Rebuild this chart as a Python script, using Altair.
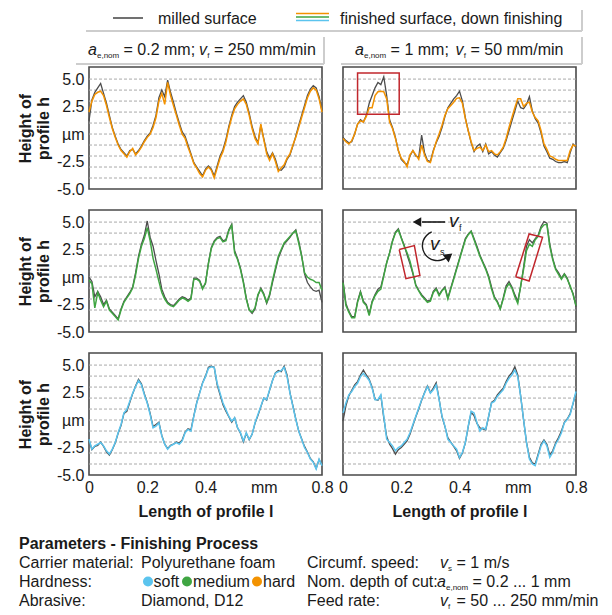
import altair as alt
import pandas as pd

FONT = "Liberation Sans"
INK = "#1a1a1a"

# sampling positions along the profile (mm)
X_MM = [round(i * 0.01, 2) for i in range(81)]

# ---- profile heights (µm) ----
MILLED_HARD_02 = [1.2, 3.1, 3.8, 4.2, 4.6, 3.7, 2.8, 1.7, 0.6, -0.2, -0.9, -1.4, -1.7, -2.0, -1.5, -1.4, -1.8, -1.5, -1.1, -0.6,
                  -0.2, 0.1, 0.8, 1.7, 3.3, 4.0, 3.4, 4.9, 3.8, 2.9, 1.9, 1.0, 0.2, -0.2, -1.0, -1.8, -2.6, -3.0, -3.4, -3.8,
                  -3.2, -2.9, -3.2, -3.8, -2.9, -2.0, -1.4, -0.5, 0.7, 1.7, 2.5, 2.9, 3.2, 3.5, 2.9, 1.9, 0.7, -0.2, -0.8, 0.8,
                  -0.4, -1.6, -2.2, -1.7, -2.3, -3.2, -3.3, -3.0, -2.3, -1.9, -1.1, -0.2, 0.8, 1.7, 2.6, 3.5, 4.1, 4.4, 4.2, 3.4,
                  2.1]
FINISHED_HARD_02 = [2.0, 3.0, 3.6, 3.8, 3.9, 3.5, 2.6, 1.5, 0.5, -0.3, -1.0, -1.5, -1.8, -2.1, -1.6, -1.3, -1.9, -1.6, -1.2, -0.7,
                    -0.3, 0.0, 0.6, 1.5, 3.0, 3.7, 2.7, 4.7, 3.5, 2.6, 1.7, 0.8, 0.0, -0.4, -1.2, -1.9, -2.7, -3.1, -3.6, -3.9,
                    -3.3, -3.0, -3.3, -4.0, -3.1, -2.2, -1.6, -0.7, 0.5, 1.5, 2.3, 2.7, 3.0, 3.2, 2.7, 1.7, 0.5, -0.4, -0.9, 0.9,
                    -0.5, -1.8, -2.4, -1.8, -2.5, -3.4, -3.1, -2.8, -2.2, -1.8, -1.0, -0.3, 0.6, 1.5, 2.4, 3.3, 3.9, 4.2, 4.0, 3.2,
                    2.0]

MILLED_HARD_1 = [-0.3, -0.6, -0.8, -0.7, 0.0, 0.9, 1.3, 1.1, 1.7, 2.8, 3.5, 4.2, 4.7, 4.5, 5.2, 3.5, 1.3, 0.6, -0.3, -1.5,
                 -2.3, -2.6, -2.8, -2.0, -1.5, -2.0, -2.1, -0.1, -1.7, -2.4, -2.5, -1.5, -0.8, -0.2, 0.6, 1.6, 2.4, 2.8, 3.2, 3.5,
                 3.9, 3.0, 1.5, 0.3, -0.8, -1.6, -1.1, -0.9, -1.6, -0.9, -1.8, -1.6, -1.9, -2.1, -1.7, -1.3, -0.6, 0.3, 1.2, 2.1,
                 3.0, 2.4, 2.3, 2.7, 3.4, 2.1, 1.4, 1.0, 0.1, -1.1, -1.6, -2.2, -2.3, -2.5, -2.6, -2.6, -2.5, -2.6, -1.7, -0.9,
                 -1.2]
FINISHED_HARD_1 = [-0.4, -0.7, -0.9, -0.6, 0.0, 0.9, 1.2, 1.1, 1.6, 2.4, 2.4, 3.5, 3.85, 3.9, 3.85, 3.2, 1.1, 0.5, -0.4, -1.5,
                   -2.2, -2.5, -3.0, -1.9, -1.5, -1.9, -2.3, -1.0, -1.9, -2.5, -2.6, -1.6, -0.7, 0.0, 0.8, 1.7, 2.3, 2.6, 2.9, 3.25,
                   3.3, 2.8, 1.4, 0.3, -0.7, -1.5, -1.3, -1.2, -1.5, -1.0, -1.6, -1.5, -1.8, -1.9, -1.6, -1.2, -0.4, 0.6, 1.5, 2.4,
                   3.2, 3.2, 2.5, 2.8, 2.9, 2.0, 1.5, 1.2, 0.3, -0.9, -1.4, -2.0, -2.1, -2.3, -2.4, -2.4, -2.4, -2.4, -1.5, -1.0,
                   -1.1]

MILLED_MEDIUM_02 = [0.0, -0.4, -1.8, -1.3, -1.8, -2.5, -2.1, -2.9, -3.2, -3.5, -3.8, -2.9, -2.2, -1.8, -1.4, -0.9, 0.4, 1.9, 3.0, 3.8,
                    5.1, 3.6, 2.8, 1.5, 0.3, -1.1, -1.8, -2.3, -2.5, -2.6, -2.3, -2.0, -1.8, -1.9, -2.1, -1.9, -0.1, -0.1, -0.3, -1.0,
                    -0.6, 1.3, 2.7, 3.3, 3.6, 3.7, 3.3, 3.4, 4.3, 4.8, 2.4, 1.7, 0.8, -0.4, -1.9, -3.0, -3.3, -2.9, -1.7, -1.0,
                    -1.5, -2.4, -1.7, -0.5, 0.6, 1.7, 2.4, 3.0, 3.3, 3.6, 4.0, 4.3, 3.3, 2.0, 0.3, -0.5, -0.9, -1.2, -1.3, -1.2,
                    -2.3]
FINISHED_MEDIUM_02 = [-0.3, -0.6, -2.8, -1.4, -2.1, -2.7, -2.2, -3.0, -3.3, -3.6, -3.9, -3.0, -2.3, -1.9, -1.5, -1.0, 0.2, 1.7, 2.8, 3.5,
                      4.5, 3.3, 1.7, 0.7, -0.4, -1.4, -2.0, -2.4, -2.6, -2.7, -2.4, -2.1, -1.9, -2.0, -2.2, -2.0, -0.2, -0.2, -0.4, -1.1,
                      -0.5, 1.2, 2.6, 3.2, 3.5, 3.6, 3.2, 3.3, 4.2, 4.7, 2.2, 1.6, 0.7, -0.5, -2.0, -3.0, -3.2, -2.8, -1.6, -1.1,
                      -1.6, -2.3, -1.6, -0.3, 0.8, 1.9, 2.5, 3.1, 3.4, 3.7, 4.0, 4.2, 3.1, 1.9, 0.4, 0.0, -0.2, -0.3, -0.5, -0.5,
                      -1.2]

MILLED_MEDIUM_1 = [-0.3, -2.4, -3.1, -3.6, -3.6, -2.2, -1.3, -2.2, -2.5, -3.4, -2.2, -1.6, -1.1, -0.9, 0.2, 1.3, 2.2, 3.3, 4.1, 4.4,
                   3.6, 2.9, 2.0, 1.2, 0.3, -0.7, -1.2, -1.6, -1.9, -2.2, -2.1, -1.3, -1.0, -1.6, -1.2, -0.9, -1.9, -1.0, -0.1, 0.8,
                   1.7, 2.6, 3.5, 3.9, 4.2, 3.5, 2.8, 2.0, 1.4, 0.8, 0.1, -0.9, -1.8, -2.2, -2.9, -1.9, -0.8, -0.4, -0.9, -1.6,
                   -2.2, -0.9, 0.9, 2.8, 3.4, 3.1, 3.5, 3.8, 4.6, 5.05, 4.9, 3.0, 1.7, 0.8, 0.4, -0.1, 0.3, -0.1, -0.9, -1.5,
                   -2.7]
FINISHED_MEDIUM_1 = [-0.5, -2.6, -3.2, -3.7, -3.7, -2.3, -1.4, -2.3, -2.6, -3.5, -2.3, -1.7, -1.3, -1.1, 0.1, 1.3, 2.2, 3.25, 4.0, 4.3,
                     3.55, 2.8, 2.2, 1.45, 0.4, -0.8, -1.25, -1.7, -2.0, -2.3, -2.2, -1.4, -1.1, -1.7, -1.25, -1.0, -2.0, -1.1, -0.2, 0.7,
                     1.6, 2.5, 3.4, 3.85, 4.15, 3.4, 2.65, 1.9, 1.3, 0.7, -0.05, -1.1, -1.9, -2.3, -2.9, -2.0, -1.0, -0.6, -1.0, -1.8,
                     -2.4, -0.8, 0.7, 2.4, 3.0, 2.8, 3.4, 3.7, 4.45, 4.75, 4.8, 2.8, 1.6, 0.7, 0.25, -0.2, 0.25, -0.2, -0.8, -1.6,
                     -2.6]

MILLED_SOFT_02 = [-1.8, -2.7, -2.4, -2.3, -2.0, -2.4, -2.9, -3.2, -2.7, -2.1, -1.2, -0.5, 0.6, 0.8, 1.6, 2.4, 3.1, 3.7, 3.3, 2.4,
                  1.6, 0.6, -0.6, -0.4, -0.2, -1.4, -2.2, -2.6, -2.3, -2.2, -2.0, -2.1, -1.8, -1.1, -0.8, -0.9, 0.4, 1.6, 2.5, 3.4,
                  4.0, 4.8, 4.9, 4.8, 3.2, 2.3, 1.4, 0.8, 0.3, -0.2, 0.2, -0.7, -1.2, -2.0, -1.2, -1.8, -1.3, -0.3, 0.4, 1.2,
                  2.0, 1.8, 2.7, 3.6, 4.3, 4.5, 4.4, 4.9, 4.1, 2.5, 1.3, 0.1, -1.0, -1.7, -2.4, -2.9, -3.5, -3.8, -4.4, -3.6,
                  -4.1]
FINISHED_SOFT_02 = [-1.75, -2.65, -2.35, -2.2, -2.05, -2.35, -2.8, -3.1, -2.65, -2.05, -1.15, -0.4, 0.65, 0.95, 1.7, 2.45, 3.05, 3.6, 3.2, 2.3,
                    1.55, 0.5, -0.7, -0.55, -0.25, -1.45, -2.2, -2.65, -2.35, -2.2, -2.05, -2.2, -1.9, -1.15, -0.85, -1.0, 0.35, 1.55, 2.45, 3.35,
                    3.95, 4.7, 4.85, 4.8, 3.35, 2.45, 1.55, 0.95, 0.35, -0.1, 0.2, -0.7, -1.15, -1.9, -1.15, -1.75, -1.3, -0.25, 0.5, 1.25,
                    2.0, 1.85, 2.75, 3.6, 4.25, 4.4, 4.5, 4.8, 3.95, 2.45, 1.25, 0.05, -1.0, -1.75, -2.5, -2.95, -3.55, -3.85, -4.45, -3.55,
                    -4.15]

MILLED_SOFT_1 = [-0.1, 1.3, 2.2, 2.7, 3.2, 3.5, 4.1, 4.55, 4.1, 3.7, 3.0, 1.9, 1.8, 2.2, 0.2, -1.5, -2.2, -2.6, -3.1, -2.7,
                 -2.5, -2.2, -1.9, -1.3, -0.5, 0.3, 1.0, 1.8, 2.5, 3.1, 2.5, 2.9, 3.4, 1.9, 0.3, -0.6, -1.6, -2.0, -2.4, -2.8,
                 -3.5, -3.0, -2.1, -0.6, 0.7, 0.4, -0.3, -0.7, -0.8, -0.9, 0.3, 1.6, 1.8, 2.3, 2.6, 2.9, 3.5, 4.0, 4.3, 4.85,
                 4.1, 2.2, 0.0, -2.0, -3.4, -3.9, -4.0, -3.1, -2.2, -1.8, -2.2, -3.2, -2.8, -2.1, -1.6, -1.0, -0.2, 0.1, 0.6, 1.5,
                 2.5]
FINISHED_SOFT_1 = [0.65, 1.55, 2.3, 2.6, 3.05, 3.35, 3.95, 4.25, 3.95, 3.6, 2.9, 1.85, 1.85, 2.3, 0.35, -1.75, -2.05, -2.35, -2.8, -2.5,
                   -2.35, -2.05, -1.75, -1.15, -0.4, 0.35, 1.1, 1.85, 2.45, 3.05, 2.45, 2.75, 3.2, 1.85, 0.35, -0.55, -1.75, -2.05, -2.35, -2.65,
                   -3.4, -2.95, -2.05, -0.55, 0.8, 0.65, -0.25, -1.0, -0.7, -0.85, 0.35, 1.55, 1.7, 2.15, 2.45, 2.75, 3.35, 3.8, 4.1, 4.55,
                   3.95, 2.15, 0.05, -2.05, -3.55, -4.0, -4.15, -3.25, -2.35, -1.9, -2.35, -3.4, -2.95, -2.2, -1.75, -1.15, -0.25, 0.05, 0.5, 1.55,
                   2.6]

GRID_LEVELS = [-4, -3, -2, -1, 0, 1, 2, 3, 4, 5]
Y_TICKS = [-5.0, -2.5, 0.0, 2.5, 5.0]
X_TICKS = [0.0, 0.2, 0.4, 0.6, 0.8]

# annotation boxes (data units)
BOX_TOP_RIGHT = {"l": [0.05], "l2": [0.193], "h": [1.8], "h2": [5.55]}
BOX_MID_X = [0.193, 0.245, 0.264, 0.216, 0.193, 0.593, 0.639, 0.685, 0.639, 0.593]
BOX_MID_Y = [2.5, 2.86, 0.15, -0.15, 2.5, 0.03, 3.92, 3.61, -0.36, 0.03]
BOX_MID_ID = [1, 1, 1, 1, 1, 2, 2, 2, 2, 2]

COL_SOFT, COL_MEDIUM, COL_HARD = "#5bc4ee", "#3fa542", "#f39200"
COL_MILLED = "#4d4d4d"
RED = "#c1272d"
BORDER = "#cdcdcd"

PW, PH = 233, 122
GAP = 21
XSCALE = alt.Scale(domain=[0, 0.8], nice=False, zero=False)
YSCALE = alt.Scale(domain=[-5, 6.1], nice=False, zero=False)

XLABEL = "datum.value == 0.6 ? 'mm' : (datum.value == 0 ? '0' : format(datum.value, '.1f'))"
YLABEL = ("datum.value == 0 ? 'µm' : (datum.value < 0 ? '-' + format(-datum.value, '.1f') "
          ": format(datum.value, '.1f'))")

ONE = pd.DataFrame({"k": [0]})
NOFRAME = alt.ViewBackground(stroke="transparent")
FRAME = alt.ViewBackground(stroke="#4a4a4a", strokeWidth=1.6, strokeOpacity=1)


def txt(s, x, y, size=16, weight="normal", style="normal", baseline="alphabetic", align="left"):
    return alt.Chart(ONE).mark_text(
        text=s, font=FONT, fontSize=size, fontWeight=weight, fontStyle=style,
        color=INK, align=align, baseline=baseline
    ).encode(x=alt.value(x), y=alt.value(y))


def hline(x1, x2, y, color, width):
    return alt.Chart(ONE).mark_rule(color=color, strokeWidth=width).encode(
        x=alt.value(x1), x2=alt.value(x2), y=alt.value(y))


def vline(x, y1, y2, color, width):
    return alt.Chart(ONE).mark_rule(color=color, strokeWidth=width).encode(
        x=alt.value(x), y=alt.value(y1), y2=alt.value(y2))


def panel(milled, finished, color, left, bottom, extras=()):
    yax = alt.Axis(values=Y_TICKS, labelExpr=YLABEL, title=["Height of", "profile h"],
                   grid=False, ticks=False, domain=False, labelPadding=5, titlePadding=5,
                   titleLineHeight=18, labelFontSize=16, titleFontSize=16, titleFontWeight="bold",
                   labelFont=FONT, titleFont=FONT, labelColor=INK, titleColor=INK,
                   labelOverlap=False) if left else None
    xax = alt.Axis(values=X_TICKS, labelExpr=XLABEL, title="Length of profile l",
                   grid=False, ticks=False, domain=False, labelPadding=4, titlePadding=8,
                   labelFontSize=16, titleFontSize=16, titleFontWeight="bold",
                   labelFont=FONT, titleFont=FONT, labelColor=INK, titleColor=INK,
                   labelFlush=False, labelOverlap=False) if bottom else None
    x_enc = alt.X("l:Q", scale=XSCALE, axis=xax)
    y_enc = alt.Y("h:Q", scale=YSCALE, axis=yax)
    grid = alt.Chart(pd.DataFrame({"h": GRID_LEVELS})).mark_rule(
        color="#a9a9a9", strokeDash=[3, 2], strokeWidth=1).encode(y=y_enc)
    m = alt.Chart(pd.DataFrame({"l": X_MM, "h": milled})).mark_line(
        color=COL_MILLED, strokeWidth=1.3).encode(x=x_enc, y=y_enc)
    f = alt.Chart(pd.DataFrame({"l": X_MM, "h": finished})).mark_line(
        color=color, strokeWidth=1.5).encode(x=x_enc, y=y_enc)
    layers = [grid, m, f]
    for e in extras:
        layers.append(e(x_enc, y_enc))
    return alt.layer(*layers).properties(width=PW, height=PH, view=FRAME)


def red_rect(x_enc, y_enc):
    return alt.Chart(pd.DataFrame(BOX_TOP_RIGHT)).mark_rect(
        filled=False, color=RED, strokeWidth=1.5).encode(
        x=x_enc, x2="l2:Q", y=y_enc, y2="h2:Q")


def red_tilted(x_enc, y_enc):
    df = pd.DataFrame({"l": BOX_MID_X, "h": BOX_MID_Y, "b": BOX_MID_ID,
                       "o": list(range(len(BOX_MID_X)))})
    return alt.Chart(df).mark_line(color=RED, strokeWidth=1.5).encode(
        x=x_enc, y=y_enc, detail="b:N", order="o:Q")


def motion_glyphs(x_enc, y_enc):
    parts = [
        hline(79, 102, 12, INK, 1.6),
        alt.Chart(ONE).mark_point(shape="triangle-left", filled=True, size=95, color=INK,
                                  opacity=1).encode(x=alt.value(74), y=alt.value(12)),
        txt("v", 106, 17, size=19, style="italic"),
        txt("f", 116, 21, size=9),
        alt.Chart(ONE).mark_arc(theta=2.5, theta2=5.9, radius=15.6, radius2=14.2,
                                color=INK).encode(x=alt.value(94.3), y=alt.value(35.7)),
        alt.Chart(ONE).mark_point(shape="triangle-right", filled=True, size=95, color=INK,
                                  opacity=1, angle=322).encode(x=alt.value(106), y=alt.value(46)),
        txt("v", 87, 40, size=19, style="italic"),
        txt("s", 97, 45, size=9),
    ]
    return alt.layer(*parts)


def blank(h):
    return alt.Chart(ONE).mark_rule(strokeOpacity=0).encode(
        x=alt.value(0), y=alt.value(0)).properties(width=PW, height=h, view=NOFRAME)


# ---- header: legend + column titles (pixel offsets from the left panel column) ----
header_items = [
    vline(-80, 0, 1, "#ffffff", 0.1),
    vline(493, 0, 21, BORDER, 2), hline(-3, 493, 21, BORDER, 2),
    hline(24, 54, 8, COL_MILLED, 1.6),
    txt("milled surface", 69, 13.5),
    hline(207, 240, 3.5, COL_HARD, 1.6),
    hline(207, 240, 7, COL_MEDIUM, 1.6),
    hline(207, 240, 10.5, COL_SOFT, 1.6),
    txt("finished surface, down finishing", 251, 13.5),
    vline(235, 27, 54, BORDER, 2), hline(-13, 235, 54, BORDER, 2),
    txt("a", -1, 45, style="italic"), txt("e,nom", 8, 48, size=8),
    txt("= 0.2 mm;", 34.5, 45), txt("v", 110, 45, style="italic"), txt("f", 118.2, 48, size=8),
    txt("= 250 mm/min", 125, 45),
    vline(493, 27, 54, BORDER, 2), hline(252, 493, 54, BORDER, 2),
    txt("a", 266, 45, style="italic"), txt("e,nom", 275, 48, size=8),
    txt("= 1 mm;", 301.6, 45), txt("v", 366.5, 45, style="italic"), txt("f", 374.7, 48, size=8),
    txt("= 50 mm/min", 381.5, 45),
]
HEAD_H = 57 - GAP
header = alt.layer(*header_items).properties(width=PW, height=HEAD_H, view=NOFRAME)

# ---- footer: process parameters (offsets from the left panel column, below the gap) ----
F0 = -21
footer_items = [
    txt("Parameters - Finishing Process", -70, 74 + F0, weight="bold"),
    txt("Carrier material:", -70, 93 + F0), txt("Polyurethane foam", 52, 93 + F0),
    txt("Hardness:", -70, 112 + F0),
    alt.Chart(ONE).mark_circle(size=100, color=COL_SOFT, opacity=1).encode(
        x=alt.value(59), y=alt.value(106.5 + F0)),
    txt("soft", 64.5, 112 + F0),
    alt.Chart(ONE).mark_circle(size=100, color=COL_MEDIUM, opacity=1).encode(
        x=alt.value(98), y=alt.value(106.5 + F0)),
    txt("medium", 104, 112 + F0),
    alt.Chart(ONE).mark_circle(size=100, color=COL_HARD, opacity=1).encode(
        x=alt.value(168), y=alt.value(106.5 + F0)),
    txt("hard", 174, 112 + F0),
    txt("Abrasive:", -70, 131 + F0), txt("Diamond, D12", 52, 131 + F0),
    txt("Circumf. speed:", 218, 93 + F0),
    txt("v", 351, 93 + F0, style="italic"), txt("s", 359, 96 + F0, size=8), txt("= 1 m/s", 367.5, 93 + F0),
    txt("Nom. depth of cut:", 218, 112 + F0),
    txt("a", 348, 112 + F0, style="italic"), txt("e,nom", 357, 115 + F0, size=8),
    txt("= 0.2 ... 1 mm", 383.5, 112 + F0),
    txt("Feed rate:", 218, 131 + F0),
    txt("v", 351, 131 + F0, style="italic"), txt("f", 359, 134 + F0, size=8),
    txt("= 50 ... 250 mm/min", 367.5, 131 + F0),
]
footer = alt.layer(*footer_items).properties(width=PW, height=95, view=NOFRAME)

chart = alt.concat(
    header, blank(HEAD_H),
    panel(MILLED_HARD_02, FINISHED_HARD_02, COL_HARD, True, False),
    panel(MILLED_HARD_1, FINISHED_HARD_1, COL_HARD, False, False, extras=(red_rect,)),
    panel(MILLED_MEDIUM_02, FINISHED_MEDIUM_02, COL_MEDIUM, True, False),
    panel(MILLED_MEDIUM_1, FINISHED_MEDIUM_1, COL_MEDIUM, False, False,
          extras=(red_tilted, motion_glyphs)),
    panel(MILLED_SOFT_02, FINISHED_SOFT_02, COL_SOFT, True, True),
    panel(MILLED_SOFT_1, FINISHED_SOFT_1, COL_SOFT, False, True),
    footer, blank(95),
    columns=2, spacing=GAP, bounds="flush",
).properties(padding=0, background="white").configure_view(stroke="transparent")

chart.save("out.html", embed_options={"renderer": "svg", "actions": False})
